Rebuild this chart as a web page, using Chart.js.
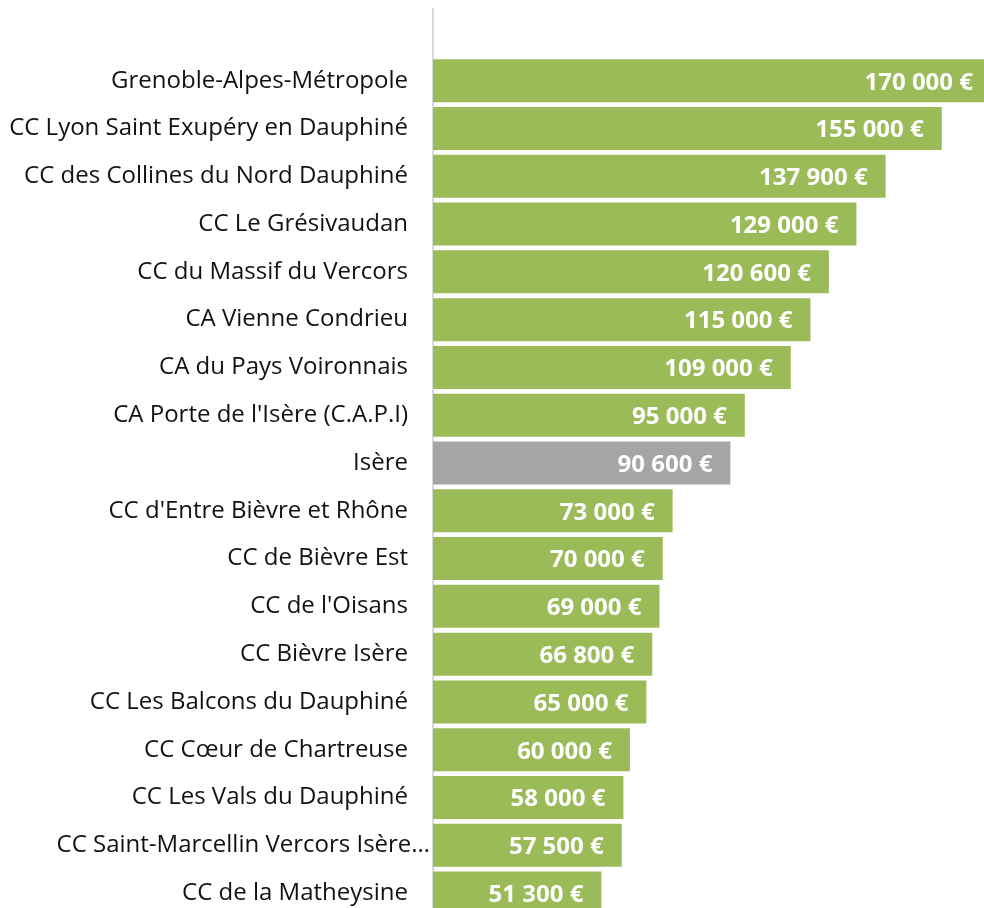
<!DOCTYPE html>
<html><head><meta charset="utf-8">
<script src="https://cdn.jsdelivr.net/npm/chart.js@4"></script>
<style>html,body{margin:0;padding:0;overflow:hidden;background:#fff;width:984px;height:908px}canvas{display:block}</style>
</head><body>
<canvas id="c" width="991" height="917"></canvas>
<script>
const categories = ["Grenoble-Alpes-Métropole","CC Lyon Saint Exupéry en Dauphiné","CC des Collines du Nord Dauphiné","CC Le Grésivaudan","CC du Massif du Vercors","CA Vienne Condrieu","CA du Pays Voironnais","CA Porte de l'Isère (C.A.P.I)","Isère","CC d'Entre Bièvre et Rhône","CC de Bièvre Est","CC de l'Oisans","CC Bièvre Isère","CC Les Balcons du Dauphiné","CC Cœur de Chartreuse","CC Les Vals du Dauphiné","CC Saint-Marcellin Vercors Isère…","CC de la Matheysine"];
const values = [170000,155000,137900,129000,120600,115000,109000,95000,90600,73000,70000,69000,66800,65000,60000,58000,57500,51300];
const highlight = "Isère";
const GREEN = "#9BBB59", GREY = "#A5A5A5";
function fmt(v){return String(v).replace(/\B(?=(\d{3})+(?!\d))/g," ")+" €";}
const labels = [""].concat(categories);
const data = [null].concat(values);
const colors = labels.map(l => l===highlight ? GREY : GREEN);
const valueLabels = {
  id:'valueLabels',
  afterDatasetsDraw(chart){
    const ctx = chart.ctx;
    const meta = chart.getDatasetMeta(0);
    ctx.save();
    ctx.font = "bold 24px 'Open Sans'";
    ctx.fillStyle = "#fff";
    ctx.textAlign = "right";
    ctx.textBaseline = "middle";
    meta.data.forEach((bar,i)=>{
      const v = data[i];
      if(v==null) return;
      ctx.fillText(fmt(v), bar.x-18, bar.y+2);
    });
    ctx.restore();
  }
};
const catLabels = {
  id:'catLabels',
  afterDraw(chart){
    const ctx = chart.ctx, s = chart.scales.y;
    ctx.save();
    ctx.font = "24px 'Open Sans'";
    ctx.fillStyle = "#111";
    ctx.textAlign = "right";
    ctx.textBaseline = "middle";
    labels.forEach((l,i)=>{
      if(!l) return;
      const truncated = l.endsWith("…");
      ctx.fillText(l, s.right - (truncated ? 3 : 25), s.getPixelForTick(i));
    });
    ctx.restore();
  }
};
new Chart(document.getElementById('c'),{
  type:'bar',
  data:{labels, datasets:[{data, backgroundColor:colors, borderWidth:0, barPercentage:0.9, categoryPercentage:1}]},
  options:{
    indexAxis:'y', responsive:false, animation:false,
    layout:{padding:{top:9,left:0,right:0,bottom:0}},
    plugins:{legend:{display:false},tooltip:{enabled:false}},
    scales:{
      x:{display:false,min:0,max:170000},
      y:{
        grid:{display:false,drawTicks:false},
        border:{display:true,color:"#D9D9D9",width:2},
        ticks:{display:false},
        afterFit(s){s.width=433;s.paddingTop=0;s.paddingBottom=0;}
      }
    }
  },
  plugins:[valueLabels,catLabels]
});
</script>
</body></html>
